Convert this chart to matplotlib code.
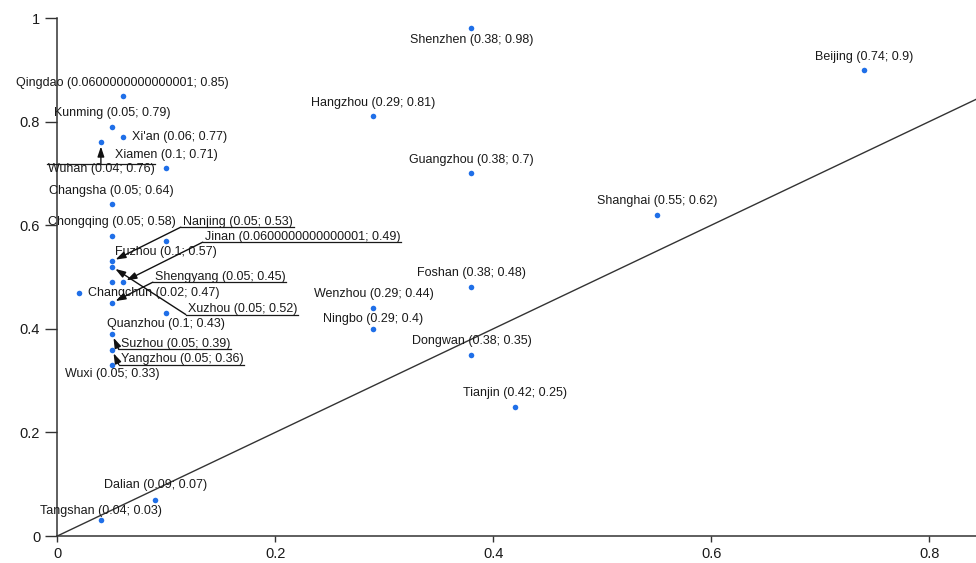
import matplotlib
matplotlib.use("Agg")
import matplotlib.pyplot as plt
from matplotlib.ticker import FuncFormatter, FixedLocator
from matplotlib.lines import Line2D

# ---------------- data ----------------
cities = ["Shenzhen", "Beijing", "Qingdao", "Hangzhou", "Kunming", "Xi'an", "Wuhan",
          "Xiamen", "Guangzhou", "Changsha", "Shanghai", "Chongqing", "Fuzhou",
          "Nanjing", "Xuzhou", "Jinan", "", "Foshan", "Changchun", "Shengyang",
          "Wenzhou", "Quanzhou", "Ningbo", "Suzhou", "Yangzhou", "Dongwan", "Wuxi",
          "Tianjin", "Dalian", "Tangshan"]
x_vals = [0.38, 0.74, 0.0600000000000001, 0.29, 0.05, 0.06, 0.04,
          0.1, 0.38, 0.05, 0.55, 0.05, 0.1,
          0.05, 0.05, 0.0600000000000001, 0.05, 0.38, 0.02, 0.05,
          0.29, 0.1, 0.29, 0.05, 0.05, 0.38, 0.05,
          0.42, 0.09, 0.04]
y_vals = [0.98, 0.9, 0.85, 0.81, 0.79, 0.77, 0.76,
          0.71, 0.7, 0.64, 0.62, 0.58, 0.57,
          0.53, 0.52, 0.49, 0.49, 0.48, 0.47, 0.45,
          0.44, 0.43, 0.4, 0.39, 0.36, 0.35, 0.33,
          0.25, 0.07, 0.03]
x_ticks = [0, 0.2, 0.4, 0.6, 0.8]
y_ticks = [0, 0.2, 0.4, 0.6, 0.8, 1]

# label placement (pixel offsets from the point): dx, dy, ha, callout
label_place = {
    "Shenzhen": (0, -12, "center", None),
    "Beijing": (0, 13, "center", None),
    "Qingdao": (0, 13, "center", None),
    "Hangzhou": (0, 13.5, "center", None),
    "Kunming": (0, 13.8, "center", None),
    "Xi'an": (9, 0, "left", None),
    "Wuhan": (0, -27, "center", "top"),
    "Xiamen": (0, 13, "center", None),
    "Guangzhou": (0, 13.5, "center", None),
    "Changsha": (0, 13.8, "center", None),
    "Shanghai": (0, 13.8, "center", None),
    "Chongqing": (0, 13.9, "center", None),
    "Fuzhou": (0, -11, "center", None),
    "Nanjing": (71, 39.8, "left", "left"),
    "Xuzhou": (76, -42.4, "left", "left"),
    "Jinan": (82, 45.5, "left", "left"),
    "Foshan": (0, 14.4, "center", None),
    "Changchun": (9, 0, "left", None),
    "Shengyang": (43, 26.2, "left", "left"),
    "Wenzhou": (0, 14, "center", None),
    "Quanzhou": (0, -10.5, "center", None),
    "Ningbo": (0, 10, "center", None),
    "Suzhou": (9, -10, "left", "left"),
    "Yangzhou": (9, -9.5, "left", "left"),
    "Dongwan": (0, 13.7, "center", None),
    "Wuxi": (0, -9, "center", None),
    "Tianjin": (0, 13.5, "center", None),
    "Dalian": (0, 14.7, "center", None),
    "Tangshan": (0, 9.8, "center", None),
}

# ---------------- figure ----------------
W, H, DPI = 976, 563, 100
fig = plt.figure(figsize=(W / DPI, H / DPI), dpi=DPI)
fig.patch.set_facecolor("white")
ax = fig.add_axes([57.3 / W, (H - 536) / H, (W - 57.3) / W, 518 / H])

ax.set_xlim(0, 0.8429)
ax.set_ylim(0, 1)

for s in ["top", "right"]:
    ax.spines[s].set_visible(False)
for s in ["left", "bottom"]:
    ax.spines[s].set_color("#333333")
    ax.spines[s].set_linewidth(1.1)

ax.xaxis.set_major_locator(FixedLocator(x_ticks))
ax.yaxis.set_major_locator(FixedLocator(y_ticks))
fmt = FuncFormatter(lambda v, p: "%g" % v)
ax.xaxis.set_major_formatter(fmt)
ax.yaxis.set_major_formatter(fmt)
ax.tick_params(axis="y", length=8.8, width=1.0, color="#333333", pad=3.5,
               labelsize=10.5, labelcolor="#1a1a1a")
ax.tick_params(axis="x", length=4.3, width=1.0, color="#333333", pad=3.5,
               labelsize=10.5, labelcolor="#1a1a1a")
for lab in ax.get_xticklabels() + ax.get_yticklabels():
    lab.set_fontfamily("Liberation Sans")

# diagonal reference line y = x
ax.plot([0, 1], [0, 1], color="#333333", lw=1.0, zorder=2)

# points
ax.scatter(x_vals, y_vals, s=16, color="#1f6fe8", zorder=3, linewidths=0)

# labels
texts = []
for name, xv, yv in zip(cities, x_vals, y_vals):
    if not name:
        continue
    dx, dy, ha, callout = label_place[name]
    t = ax.annotate(f"{name} ({xv!r}; {yv!r})", xy=(xv, yv), xycoords="data",
                    xytext=(dx, dy), textcoords="offset pixels",
                    ha=ha, va="center", fontsize=9, family="Liberation Sans",
                    color="#1a1a1a", zorder=4)
    texts.append((t, xv, yv, callout))

fig.canvas.draw()
renderer = fig.canvas.get_renderer()
for t, xv, yv, callout in texts:
    if callout is None:
        continue
    bb = t.get_window_extent(renderer)
    px, py = ax.transData.transform((xv, yv))
    if callout == "left":
        uy = bb.y0 + 0.5
        x0, x1 = bb.x0 - 2, bb.x1 + 1
        start = (x0, uy)
    else:  # top
        uy = bb.y1 - 1
        x0, x1 = bb.x0 - 1, bb.x1 + 1
        start = (px, uy)
    fig.add_artist(Line2D([x0, x1], [uy, uy], transform=None, color="#1a1a1a", lw=0.9))
    ax.annotate("", xy=(px, py), xycoords="figure pixels",
                xytext=start, textcoords="figure pixels",
                arrowprops=dict(arrowstyle="-|>,head_length=0.6,head_width=0.2",
                                mutation_scale=10, lw=1.0,
                                color="#111111", shrinkA=0, shrinkB=3),
                zorder=4)

fig.savefig("out.png", dpi=DPI)
